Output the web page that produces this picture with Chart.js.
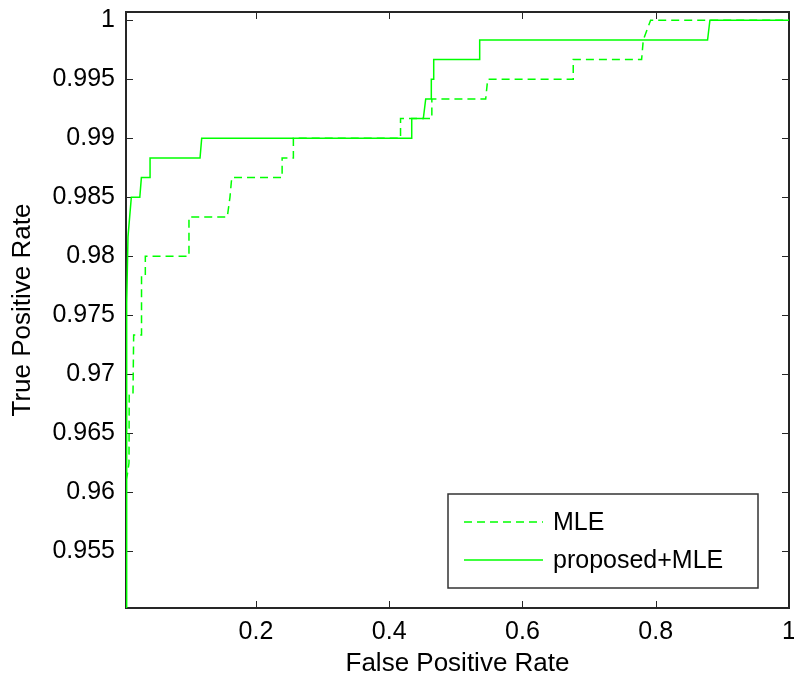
<!DOCTYPE html>
<html>
<head>
<meta charset="utf-8">
<title>ROC</title>
<script src="https://cdn.jsdelivr.net/npm/chart.js@4.4.1/dist/chart.umd.min.js"></script>
<style>
  html, body { margin: 0; padding: 0; background: #fff; }
  #wrap { width: 794px; height: 679px; position: relative; }
</style>
</head>
<body>
<div id="wrap"><canvas id="roc"></canvas></div>
<script>
// ROC curves
const mleFpr = [0.005, 0.005, 0.007, 0.0095, 0.0098, 0.0155, 0.0165, 0.0283, 0.0283, 0.034, 0.034, 0.0995, 0.0995, 0.157, 0.161, 0.1637, 0.2393, 0.2393, 0.2562, 0.2562, 0.417, 0.417, 0.464, 0.464, 0.5448, 0.5478, 0.6762, 0.6762, 0.7788, 0.7813, 0.7923, 1]
const mleTpr = [0.95, 0.961, 0.9615, 0.9625, 0.96833, 0.96833, 0.97333, 0.97333, 0.97833, 0.97833, 0.98, 0.98, 0.98333, 0.98333, 0.985, 0.98667, 0.98667, 0.98833, 0.98833, 0.99, 0.99, 0.99167, 0.99167, 0.99333, 0.99333, 0.995, 0.995, 0.99667, 0.99667, 0.99833, 1, 1]

const propFpr = [0.005, 0.006, 0.008, 0.013, 0.0257, 0.0281, 0.0411, 0.0411, 0.1161, 0.1186, 0.4338, 0.4338, 0.4512, 0.4548, 0.4632, 0.4632, 0.4668, 0.4668, 0.5358, 0.5358, 0.8778, 0.8813, 1]
const propTpr = [0.95, 0.976, 0.98167, 0.985, 0.985, 0.98667, 0.98667, 0.98833, 0.98833, 0.99, 0.99, 0.99167, 0.99167, 0.99333, 0.99333, 0.995, 0.995, 0.99667, 0.99667, 0.99833, 0.99833, 1, 1]

const xTicks = [0.2, 0.4, 0.6, 0.8, 1]
const yTicks = [0.955, 0.96, 0.965, 0.97, 0.975, 0.98, 0.985, 0.99, 0.995, 1]
const seriesNames = ["MLE", "proposed+MLE"]

const green = "rgb(0,255,0)"
const axisColor = "#262626"
const fontFam = "'Liberation Sans', Arial, Helvetica, sans-serif"

function toPoints(xs, ys) {
  return xs.map((v, i) => ({ x: v, y: ys[i] }))
}

// matlab style box with inward ticks
const boxPlugin = {
  id: "box",
  beforeDatasetsDraw(chart) {
    const { ctx, chartArea: a, scales } = chart
    ctx.save()
    ctx.strokeStyle = axisColor
    ctx.lineWidth = 1
    ctx.beginPath()
    xTicks.forEach(v => {
      const px = Math.round(scales.x.getPixelForValue(v)) + 0.5
      ctx.moveTo(px, a.bottom); ctx.lineTo(px, a.bottom - 7)
      ctx.moveTo(px, a.top); ctx.lineTo(px, a.top + 7)
    })
    yTicks.forEach(v => {
      const py = Math.round(scales.y.getPixelForValue(v)) + 0.5
      ctx.moveTo(a.left, py); ctx.lineTo(a.left + 7, py)
      ctx.moveTo(a.right, py); ctx.lineTo(a.right - 7, py)
    })
    ctx.stroke()
    ctx.lineWidth = 2
    ctx.strokeRect(a.left, a.top, a.right - a.left, a.bottom - a.top)
    ctx.restore()
  }
}

const legendPlugin = {
  id: "boxlegend",
  afterDraw(chart) {
    const { ctx, chartArea: a } = chart
    const w = 310, h = 94
    const left = a.right - 31 - w
    const top = a.bottom - 20 - h
    ctx.save()
    ctx.fillStyle = "#fff"
    ctx.fillRect(left, top, w, h)
    ctx.strokeStyle = "#333"
    ctx.lineWidth = 1.5
    ctx.strokeRect(left, top, w, h)
    const rows = [top + 28, top + 66]
    chart.data.datasets.forEach((ds, i) => {
      ctx.strokeStyle = ds.borderColor
      ctx.lineWidth = ds.borderWidth
      ctx.setLineDash(ds.borderDash || [])
      ctx.beginPath()
      ctx.moveTo(left + 16, rows[i])
      ctx.lineTo(left + 95, rows[i])
      ctx.stroke()
      ctx.setLineDash([])
      ctx.fillStyle = "#000"
      ctx.font = "25px " + fontFam
      ctx.textBaseline = "middle"
      ctx.fillText(ds.label, left + 105, rows[i] + 1)
    })
    ctx.restore()
  }
}

new Chart(document.getElementById("roc"), {
  type: "scatter",
  data: {
    datasets: [
      {
        label: seriesNames[0],
        data: toPoints(mleFpr, mleTpr),
        showLine: true,
        borderColor: green,
        borderWidth: 1.5,
        borderDash: [8, 5],
        pointRadius: 0,
        tension: 0,
        order: 2
      },
      {
        label: seriesNames[1],
        data: toPoints(propFpr, propTpr),
        showLine: true,
        borderColor: green,
        borderWidth: 1.5,
        pointRadius: 0,
        tension: 0,
        order: 1
      }
    ]
  },
  options: {
    responsive: true,
    maintainAspectRatio: false,
    animation: false,
    layout: { padding: { top: 12, right: 5, left: 0, bottom: 0 } },
    plugins: { legend: { display: false }, tooltip: { enabled: false } },
    scales: {
      x: {
        type: "linear",
        min: 0.005,
        max: 1,
        grid: { display: false, drawTicks: false },
        border: { display: false },
        afterBuildTicks: s => { s.ticks = xTicks.map(v => ({ value: v })) },
        afterFit: s => { s.height = 71; s.paddingLeft = 0; s.paddingRight = 0 },
        ticks: {
          color: "#000",
          font: { family: fontFam, size: 25 },
          padding: 9,
          maxRotation: 0,
          autoSkip: false,
          callback: v => String(+Number(v).toFixed(3))
        },
        title: {
          display: true,
          text: "False Positive Rate",
          color: "#000",
          font: { family: fontFam, size: 26 },
          padding: { top: 0, bottom: 0 }
        }
      },
      y: {
        type: "linear",
        min: 0.9502,
        max: 1.0007,
        grid: { display: false, drawTicks: false },
        border: { display: false },
        afterBuildTicks: s => { s.ticks = yTicks.map(v => ({ value: v })) },
        afterFit: s => { s.width = 126; s.paddingTop = 0; s.paddingBottom = 0 },
        ticks: {
          color: "#000",
          font: { family: fontFam, size: 25 },
          padding: 11,
          autoSkip: false,
          callback: v => String(+Number(v).toFixed(3))
        },
        title: {
          display: true,
          text: "True Positive Rate",
          color: "#000",
          font: { family: fontFam, size: 26 },
          padding: { top: 7, bottom: 0 }
        }
      }
    }
  },
  plugins: [boxPlugin, legendPlugin]
})
</script>
</body>
</html>
